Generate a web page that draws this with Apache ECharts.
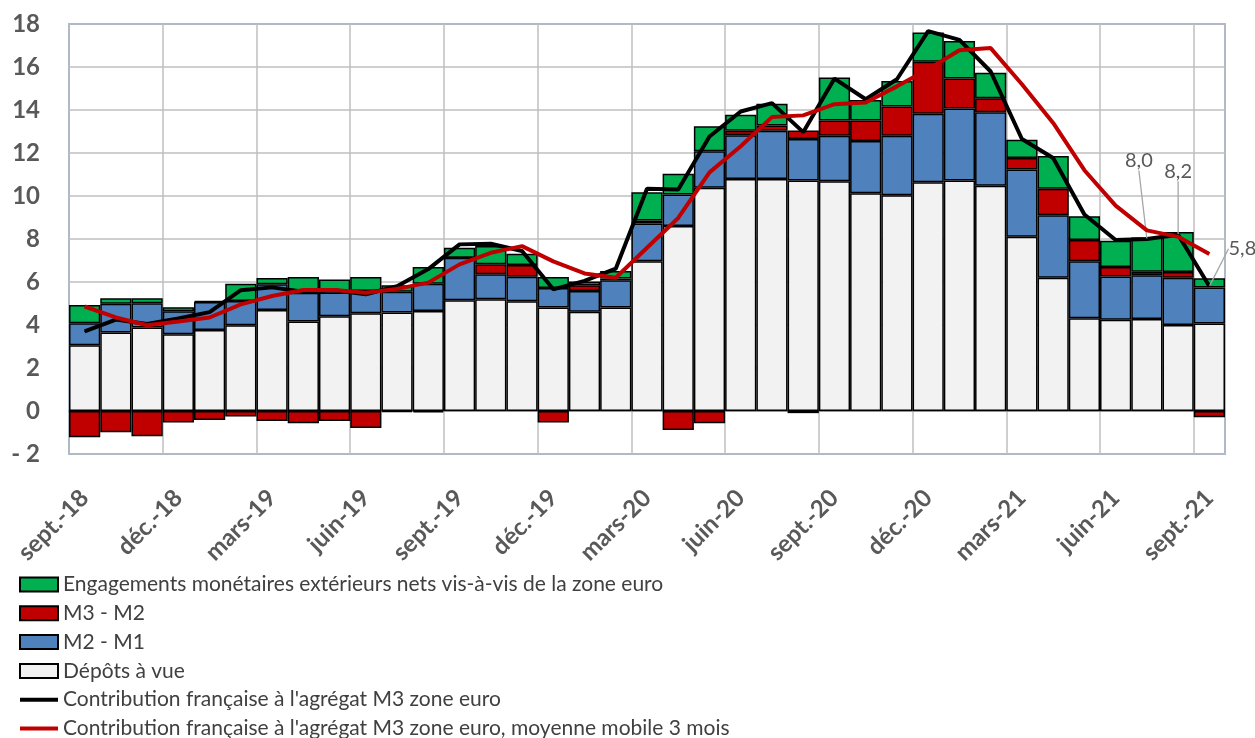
<!DOCTYPE html>
<html>
<head>
<meta charset="utf-8">
<script src="https://cdn.jsdelivr.net/npm/echarts@6/dist/echarts.min.js"></script>
<style>
  html, body { margin: 0; padding: 0; background: #fff; }
  #chart { width: 1255px; height: 738px; }
</style>
</head>
<body>
<div id="chart"></div>
<script>
// mois, de sept.-18 à sept.-21
var months = ['sept.-18','oct.-18','nov.-18','déc.-18','janv.-19','févr.-19','mars-19','avr.-19','mai-19','juin-19',
  'juil.-19','août-19','sept.-19','oct.-19','nov.-19','déc.-19','janv.-20','févr.-20','mars-20','avr.-20',
  'mai-20','juin-20','juil.-20','août-20','sept.-20','oct.-20','nov.-20','déc.-20','janv.-21','févr.-21',
  'mars-21','avr.-21','mai-21','juin-21','juil.-21','août-21','sept.-21'];

// composantes empilées
var depots = [3.06,3.65,3.88,3.57,3.77,3.99,4.70,4.16,4.41,4.55,4.58,4.65,5.15,5.20,5.10,4.81,4.62,4.81,6.96,8.60,
  10.38,10.79,10.79,10.72,10.69,10.13,10.04,10.64,10.72,10.48,8.10,6.20,4.31,4.24,4.28,4.00,4.07];
var m2m1 = [1.02,1.34,1.13,1.07,1.30,1.13,1.19,1.34,1.10,1.03,0.97,1.27,1.98,1.16,1.15,0.91,0.96,1.27,1.76,1.47,
  1.70,2.03,2.25,1.93,2.11,2.43,2.76,3.18,3.35,3.41,3.13,2.91,2.65,2.02,2.03,2.20,1.67];
var m3m2 = [-1.22,-0.99,-1.18,-0.54,-0.42,-0.25,-0.46,-0.57,-0.46,-0.79,-0.05,-0.06,0,0.46,0.54,-0.53,0.27,0.08,0.14,-0.88,
  -0.57,0.22,0.24,0.40,0.71,0.95,1.36,2.42,1.39,0.66,0.54,1.23,0.99,0.44,0.17,0.26,-0.29];
var engagements = [0.85,0.25,0.23,0.18,0.05,0.80,0.30,0.73,0.61,0.65,0.30,0.78,0.46,0.85,0.52,0.51,0.17,0.35,1.31,0.96,
  1.16,0.74,1.01,-0.10,2.00,0.96,1.19,1.37,1.75,1.18,0.85,1.52,1.11,1.22,1.59,1.87,0.43];

// contribution française et sa moyenne mobile 3 mois
var contribution = [3.70,4.25,4.05,4.30,4.60,5.62,5.75,5.55,5.62,5.43,5.80,6.60,7.75,7.78,7.44,5.66,6.05,6.62,10.34,10.30,
  12.77,13.93,14.32,12.97,15.46,14.50,15.43,17.67,17.26,15.79,12.65,11.77,9.14,7.95,8.00,8.20,5.80];
var moyenne3m = [4.86,4.35,3.99,4.16,4.35,4.96,5.35,5.63,5.63,5.50,5.68,5.97,6.82,7.36,7.67,6.96,6.40,6.20,7.59,8.98,
  11.10,12.31,13.67,13.75,14.27,14.35,15.10,15.90,16.78,16.88,15.20,13.40,11.20,9.55,8.40,8.10,7.30];

// points étiquetés sur la courbe noire, et décalage des étiquettes
var labelled = [34, 35, 36];
var labelShift = { 34: [-8, -63], 35: [0, -48], 36: [33, -22] };

var FONT = 'Lato, "Open Sans", sans-serif';
var GREY = '#595959';
var LINE_ICON = 'path://M0,0 L38,0 L38,4 L0,4 Z';

var chart = echarts.init(document.getElementById('chart'));

function barSeries(name, data, color) {
  return {
    name: name,
    type: 'bar',
    stack: 'm3',
    barCategoryGap: 0,
    data: data,
    itemStyle: { color: color, borderColor: '#000', borderWidth: 1.5 },
    emphasis: { disabled: true }
  };
}

chart.setOption({
  animation: false,
  grid: { left: 69, right: 30, top: 24, bottom: 284, show: true, borderColor: '#5B8BD0', borderWidth: 1.5 },
  legend: {
    orient: 'vertical',
    left: 19,
    top: 574,
    height: 220,
    padding: 0,
    itemWidth: 38,
    itemHeight: 14,
    itemGap: 7.8,
    textStyle: { fontFamily: FONT, fontSize: 21, color: '#404040', lineHeight: 20 },
    data: [
      { name: 'Engagements monétaires extérieurs nets vis-à-vis de la zone euro', icon: 'rect' },
      { name: 'M3 - M2', icon: 'rect' },
      { name: 'M2 - M1', icon: 'rect' },
      { name: 'Dépôts à vue', icon: 'rect' },
      { name: 'Contribution française à l\'agrégat M3 zone euro', icon: LINE_ICON },
      { name: 'Contribution française à l\'agrégat M3 zone euro, moyenne mobile 3 mois', icon: LINE_ICON }
    ]
  },
  xAxis: [{
    type: 'category',
    data: months,
    boundaryGap: true,
    axisLine: { show: false, onZero: false },
    axisTick: { show: false },
    axisLabel: {
      interval: 2,
      rotate: 45,
      margin: 40,
      fontFamily: FONT,
      fontSize: 24,
      fontWeight: 'bold',
      color: GREY
    },
    splitLine: {
      show: true,
      interval: function (i) { return i % 3 === 0; },
      lineStyle: { color: '#BFBFBF', width: 1.5 }
    }
  }, {
    // ligne du zéro
    type: 'category',
    data: months,
    axisLine: { show: true, onZero: true, lineStyle: { color: '#5B8BD0', width: 1.5 } },
    axisTick: { show: false },
    axisLabel: { show: false },
    splitLine: { show: false }
  }],
  yAxis: {
    type: 'value',
    min: -2,
    max: 18,
    interval: 2,
    axisLine: { show: false },
    axisTick: { show: false },
    axisLabel: {
      margin: 29,
      fontFamily: FONT,
      fontSize: 24,
      fontWeight: 'bold',
      color: GREY,
      formatter: function (v) { return v < 0 ? '- ' + Math.abs(v) : String(v); }
    },
    splitLine: { lineStyle: { color: '#BFBFBF', width: 1.5 } }
  },
  series: [
    barSeries('Dépôts à vue', depots, '#F2F2F2'),
    barSeries('M2 - M1', m2m1, '#4F81BD'),
    barSeries('M3 - M2', m3m2, '#C00000'),
    barSeries('Engagements monétaires extérieurs nets vis-à-vis de la zone euro', engagements, '#00B050'),
    {
      name: 'Contribution française à l\'agrégat M3 zone euro',
      type: 'line',
      data: contribution.map(function (v, i) {
        return labelled.indexOf(i) >= 0 ? { value: v, label: { show: true } } : v;
      }),
      symbol: 'circle',
      symbolSize: 1,
      showSymbol: true,
      lineStyle: { color: '#000', width: 4 },
      itemStyle: { color: '#000' },
      label: {
        show: false,
        position: 'top',
        fontFamily: FONT,
        fontSize: 20,
        color: GREY,
        formatter: function (p) { return p.value.toFixed(1).replace('.', ','); }
      },
      labelLine: { show: true, lineStyle: { color: '#A6A6A6', width: 1.3 } },
      labelLayout: function (p) {
        var s = labelShift[p.dataIndex];
        return s ? { dx: s[0], dy: s[1] } : {};
      },
      emphasis: { disabled: true },
      z: 3
    },
    {
      name: 'Contribution française à l\'agrégat M3 zone euro, moyenne mobile 3 mois',
      type: 'line',
      data: moyenne3m,
      symbol: 'none',
      lineStyle: { color: '#C00000', width: 4 },
      itemStyle: { color: '#C00000' },
      emphasis: { disabled: true },
      z: 4
    }
  ]
});
</script>
</body>
</html>
